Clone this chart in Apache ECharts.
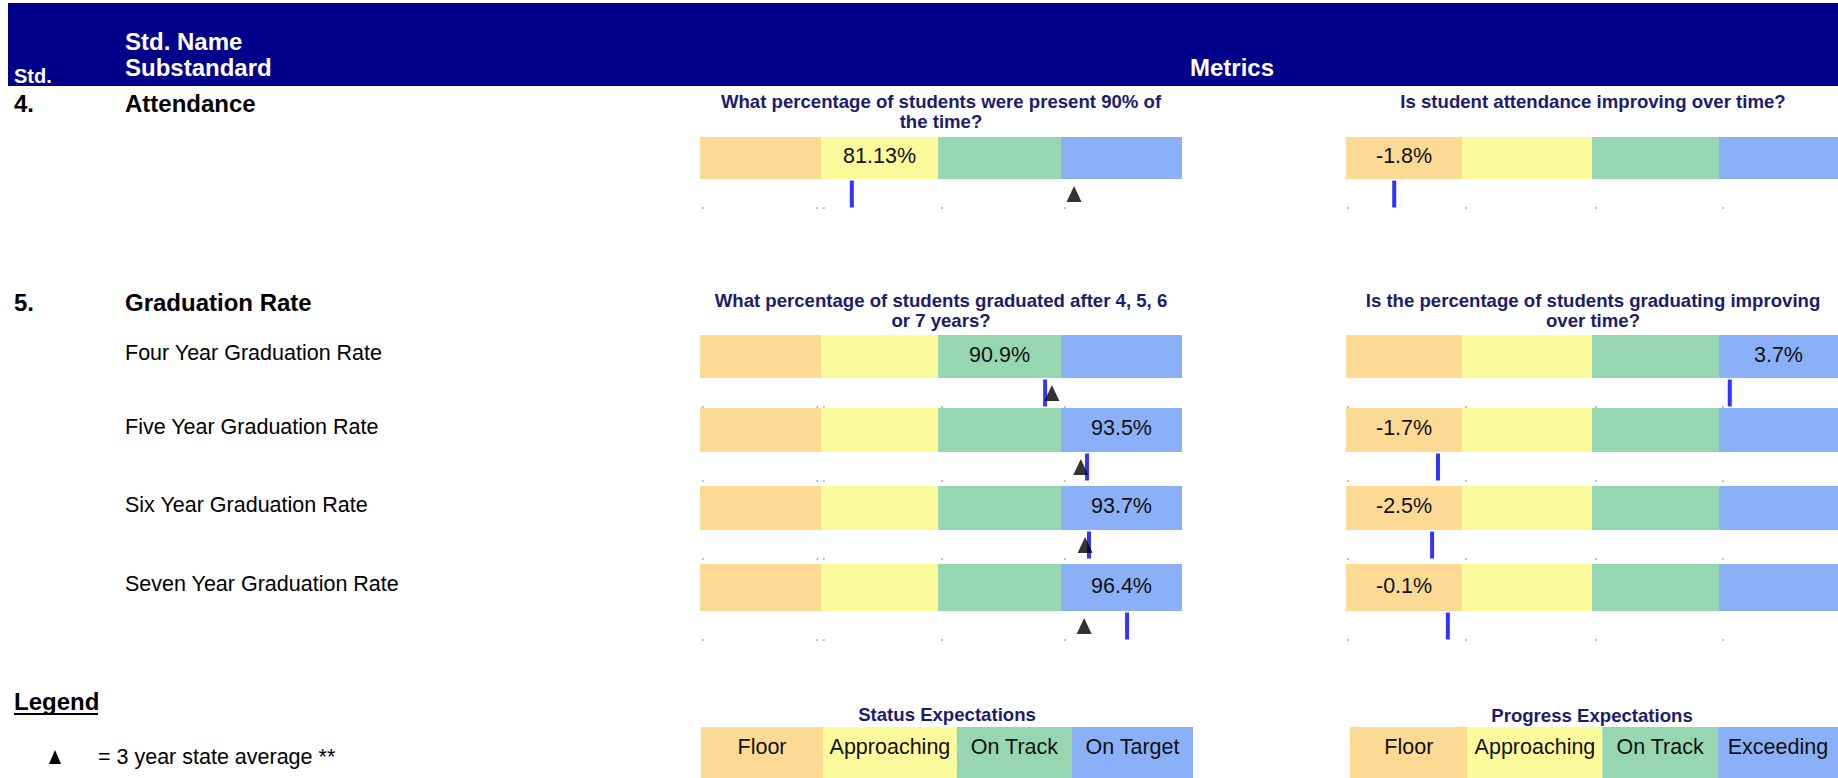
<!DOCTYPE html>
<html><head><meta charset="utf-8">
<script src="https://cdn.jsdelivr.net/npm/echarts@6/dist/echarts.min.js"></script>
<style>html,body{margin:0;padding:0;background:#fff;overflow:hidden}#c{width:1838px;height:778px}</style>
</head><body><div id="c"></div>
<script>
// ---------------- data ----------------
const rowLabels = ['Attendance', 'Four Year Graduation Rate', 'Five Year Graduation Rate', 'Six Year Graduation Rate', 'Seven Year Graduation Rate'];
const statusLevels = ['Floor', 'Approaching', 'On Track', 'On Target'];
const progressLevels = ['Floor', 'Approaching', 'On Track', 'Exceeding'];
// band widths on a 0-100 scale track
const statusBands = [25.1, 24.3, 25.5, 25.1];
const progressBands = [23.6, 26.4, 25.8, 24.2];
const legendStatusBands = [24.8, 27.2, 23.4, 24.6];
const legendProgressBands = [24.1, 27.6, 23.7, 24.6];
// small tick dots under each track
const statusTickDots = [0.6, 24.3, 25.7, 50.2, 75.7];
const progressTickDots = [0.4, 24.4, 50.8, 76.6];
// status metric
const statusValues = [81.13, 90.9, 93.5, 93.7, 96.4];
const statusDecimals = [2, 1, 1, 1, 1];
const statusLevelIdx = [1, 2, 3, 3, 3];
const statusMarker = [31.5, 71.6, 80.3, 80.7, 88.6];     // school position on track
const stateAvgMarker = [77.6, 73.0, 79.0, 79.9, 79.7];   // 3 year state average on track
// progress metric
const progressValues = [-1.8, 3.7, -1.7, -2.5, -0.1];
const progressLevelIdx = [0, 3, 0, 0, 0];
const progressMarker = [9.8, 78.0, 18.7, 17.5, 20.7];
// titles
const statusTitles = [['What percentage of students were present 90% of', 'the time?'], ['What percentage of students graduated after 4, 5, 6', 'or 7 years?']];
const progressTitles = [['Is student attendance improving over time?'], ['Is the percentage of students graduating improving', 'over time?']];

// ---------------- layout & style ----------------
const bandColors = ['#FCDA93', '#FCFB9B', '#96D7B1', '#8AB0F8'];
const FONT = '"Liberation Sans", Arial, Helvetica, sans-serif';
const NAVY = '#1C1C6E';
const rowTop = [137, 335, 408, 486, 564];
const rowH = [42, 43, 44, 44, 47];
const S = {left: 700, width: 482};
const P = {left: 1346, width: 492};
const REG = 21.5, HEAD = 24, TTL = 18.6;

const grids = [], xAxis = [], yAxis = [], series = [];

function bandGrid(box, bands, labelFor, fontSize, offY) {
  const gi = grids.length;
  grids.push({left: box.left, top: box.top, width: box.width, height: box.height});
  xAxis.push({type: 'value', gridIndex: gi, min: 0, max: 100, show: false});
  yAxis.push({type: 'category', gridIndex: gi, data: ['r'], show: false});
  bands.forEach((w, k) => {
    const txt = labelFor(k);
    series.push({
      type: 'bar', xAxisIndex: gi, yAxisIndex: gi, stack: 'b' + gi, barWidth: '100%',
      silent: true, animation: false, itemStyle: {color: bandColors[k]}, data: [w],
      label: {show: txt !== null, position: 'inside', formatter: () => txt || '', color: '#111',
              fontFamily: FONT, fontSize: fontSize, offset: [0, offY]}
    });
  });
}
function markerGrid(box, items, dots) {
  const gi = grids.length;
  grids.push({left: box.left, top: box.top, width: box.width, height: 28});
  xAxis.push({type: 'value', gridIndex: gi, min: 0, max: 100, show: false});
  yAxis.push({type: 'value', gridIndex: gi, min: 0, max: 1, show: false});
  series.push({type: 'scatter', xAxisIndex: gi, yAxisIndex: gi, silent: true, animation: false, clip: false,
    data: dots.map(d => ({value: [d, 0], symbol: 'circle', symbolSize: 1.6, itemStyle: {color: '#888'}})).concat(items)});
}
const lineMark = x => ({value: [x, 0.5], symbol: 'rect', symbolSize: [4, 27], itemStyle: {color: '#0000FF'}});
const triMark = x => ({value: [x, 0.5], symbol: 'triangle', symbolSize: [15, 16], itemStyle: {color: '#000'}});

for (let i = 0; i < rowLabels.length; i++) {
  const sTxt = statusValues[i].toFixed(statusDecimals[i]) + '%';
  bandGrid({left: S.left, width: S.width, top: rowTop[i], height: rowH[i]}, statusBands,
           k => k === statusLevelIdx[i] ? sTxt : null, REG, -2);
  markerGrid({left: S.left, width: S.width, top: rowTop[i] + rowH[i] + 1},
             [lineMark(statusMarker[i]), triMark(stateAvgMarker[i])], statusTickDots);
  const pTxt = progressValues[i].toFixed(1) + '%';
  bandGrid({left: P.left, width: P.width, top: rowTop[i], height: rowH[i]}, progressBands,
           k => k === progressLevelIdx[i] ? pTxt : null, REG, -2);
  markerGrid({left: P.left, width: P.width, top: rowTop[i] + rowH[i] + 1}, [lineMark(progressMarker[i])], progressTickDots);
}
// legend bands
bandGrid({left: 701, width: 492, top: 727, height: 51}, legendStatusBands, k => statusLevels[k], REG, -6);
bandGrid({left: 1350, width: 488, top: 727, height: 51}, legendProgressBands, k => progressLevels[k], REG, -6);

// ---------------- texts ----------------
function txt(x, y, text, size, opts) {
  opts = opts || {};
  return {type: 'text', x: x, y: y, silent: true, z: 10,
    style: {text: text, fill: opts.color || '#000', font: (opts.bold ? 'bold ' : '') + size + 'px ' + FONT,
            align: opts.align || 'left', verticalAlign: 'middle', textAlign: opts.align || 'left', textVerticalAlign: 'middle'}};
}
const W = {color: '#fff', bold: true};
const graphic = [
  {type: 'rect', shape: {x: 8, y: 3, width: 1830, height: 83}, style: {fill: '#00008B'}, silent: true, z: 1},
  txt(14, 76, 'Std.', 20, W),
  txt(125, 41, 'Std. Name', HEAD, W),
  txt(125, 67, 'Substandard', HEAD, W),
  txt(1232, 67, 'Metrics', HEAD, Object.assign({align: 'center'}, W)),
  txt(14, 103, '4.', HEAD, {bold: true}),
  txt(125, 103, rowLabels[0], HEAD, {bold: true}),
  txt(14, 302, '5.', HEAD, {bold: true}),
  txt(125, 302, 'Graduation Rate', HEAD, {bold: true}),
  txt(14, 701, 'Legend', HEAD, {bold: true}),
  {type: 'line', shape: {x1: 14, y1: 714, x2: 98, y2: 714}, style: {stroke: '#000', lineWidth: 2}, silent: true},
  {type: 'polygon', shape: {points: [[49, 764], [61, 764], [55, 750]]}, style: {fill: '#000'}, silent: true},
  txt(98, 757, '= 3 year state average **', REG),
  txt(947, 714, 'Status Expectations', TTL, {bold: true, color: NAVY, align: 'center'}),
  txt(1592, 715, 'Progress Expectations', TTL, {bold: true, color: NAVY, align: 'center'})
];
for (let i = 1; i < rowLabels.length; i++) graphic.push(txt(125, rowTop[i] + rowH[i] / 2 - 3.5, rowLabels[i], REG));
const titleY = [101, 300];
statusTitles.forEach((lines, t) => lines.forEach((l, j) =>
  graphic.push(txt(941, titleY[t] + j * 20, l, TTL, {bold: true, color: NAVY, align: 'center'}))));
progressTitles.forEach((lines, t) => lines.forEach((l, j) =>
  graphic.push(txt(1593, titleY[t] + j * 20, l, TTL, {bold: true, color: NAVY, align: 'center'}))));

const chart = echarts.init(document.getElementById('c'), null, {renderer: 'svg'});
chart.setOption({animation: false, grid: grids, xAxis: xAxis, yAxis: yAxis, series: series, graphic: graphic});
</script></body></html>
